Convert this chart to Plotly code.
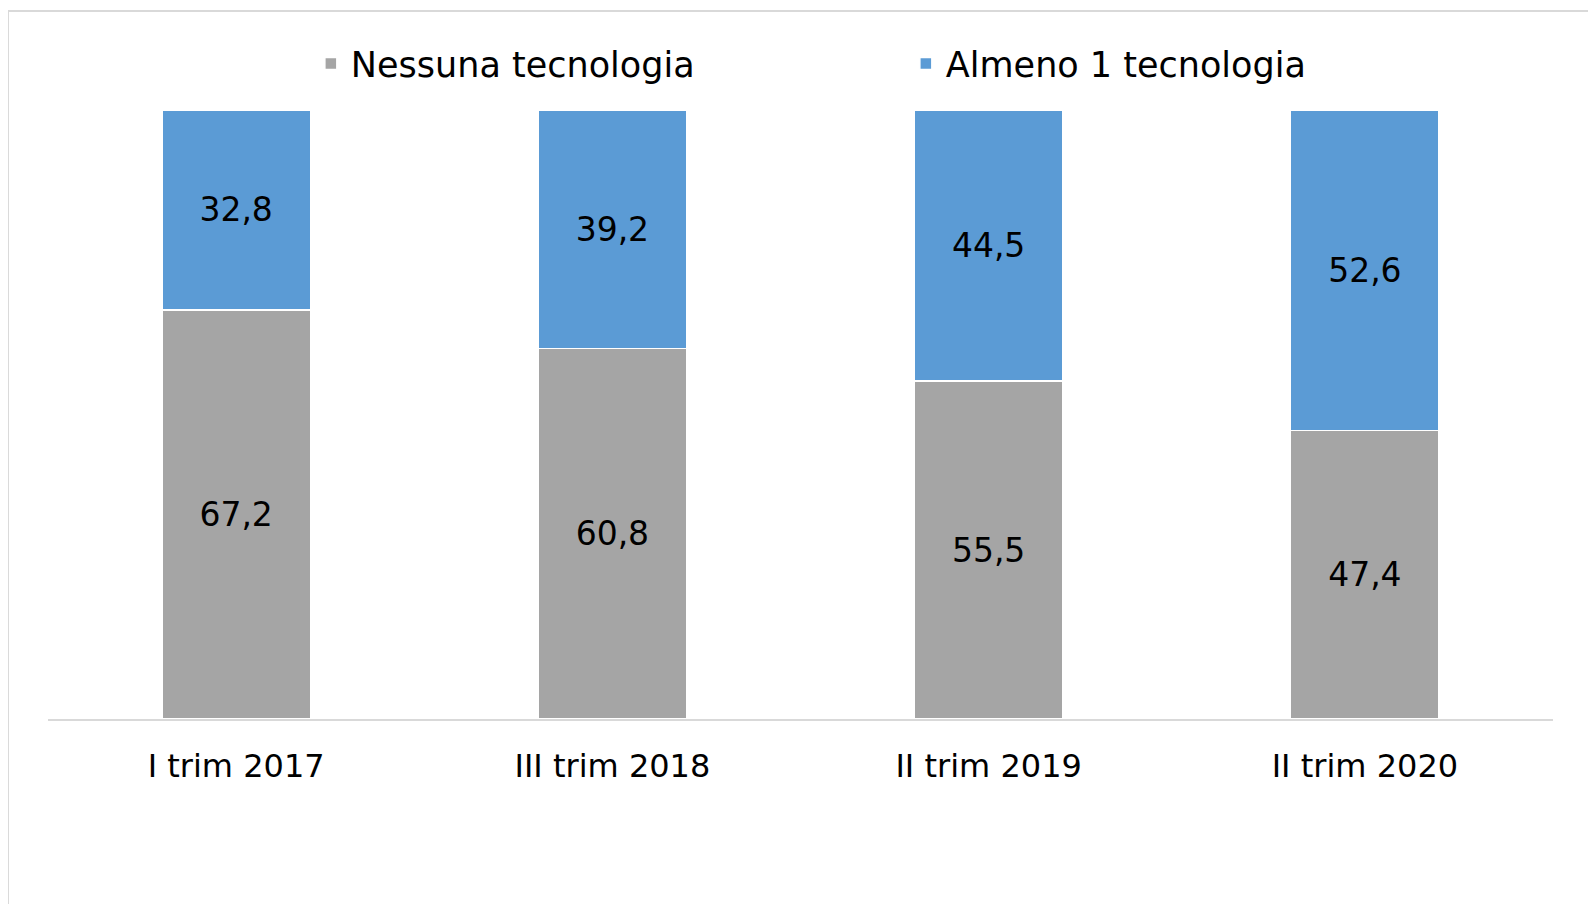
import plotly.graph_objects as go

# data
periodi = ["I trim 2017", "III trim 2018", "II trim 2019", "II trim 2020"]
nessuna = [67.2, 60.8, 55.5, 47.4]
almeno_una = [32.8, 39.2, 44.5, 52.6]

FONT = "DejaVu Sans, sans-serif"
GRIGIO = "#A5A5A5"
BLU = "#5B9BD5"
LINEA = "#D9D9D9"

fig = go.Figure()
fig.add_trace(go.Bar(
    x=periodi, y=nessuna, name="Nessuna tecnologia",
    marker=dict(color=GRIGIO, line=dict(color="white", width=1.5)),
    texttemplate="%{y:.1f}", textposition="inside", insidetextanchor="middle",
    textfont=dict(size=33, color="black", family=FONT),
))
fig.add_trace(go.Bar(
    x=periodi, y=almeno_una, name="Almeno 1 tecnologia",
    marker=dict(color=BLU, line=dict(color="white", width=1.5)),
    texttemplate="%{y:.1f}", textposition="inside", insidetextanchor="middle",
    textfont=dict(size=33, color="black", family=FONT),
))

# the page adds an 8px body margin, so everything is drawn 8px up/left
fig.update_layout(
    barmode="stack",
    bargap=0.605,
    separators=",.",
    width=1596, height=904,
    margin=dict(l=40, r=51, t=102, b=193),
    paper_bgcolor="white", plot_bgcolor="white",
    font=dict(family=FONT, color="black"),
    showlegend=True,
    legend=dict(
        orientation="h", traceorder="normal",
        x=0.57, xanchor="center", y=1.076, yanchor="middle",
        entrywidth=550, font=dict(size=35, family=FONT),
    ),
    uniformtext=dict(mode="show", minsize=10),
    shapes=[
        dict(type="line", xref="paper", yref="paper", x0=-0.0266, x1=1.04, y0=1.1626, y1=1.1626,
             line=dict(color=LINEA, width=2)),
        dict(type="line", xref="paper", yref="paper", x0=-0.0266, x1=-0.0266, y0=1.1626, y1=-0.33,
             line=dict(color=LINEA, width=2)),
    ],
)
fig.update_xaxes(showline=True, linecolor=LINEA, linewidth=2, ticks="", ticklabelstandoff=18,
                 tickfont=dict(size=32, family=FONT, color="black"))
fig.update_yaxes(range=[0, 100], visible=False, showgrid=False)

fig.write_html("out.html")
